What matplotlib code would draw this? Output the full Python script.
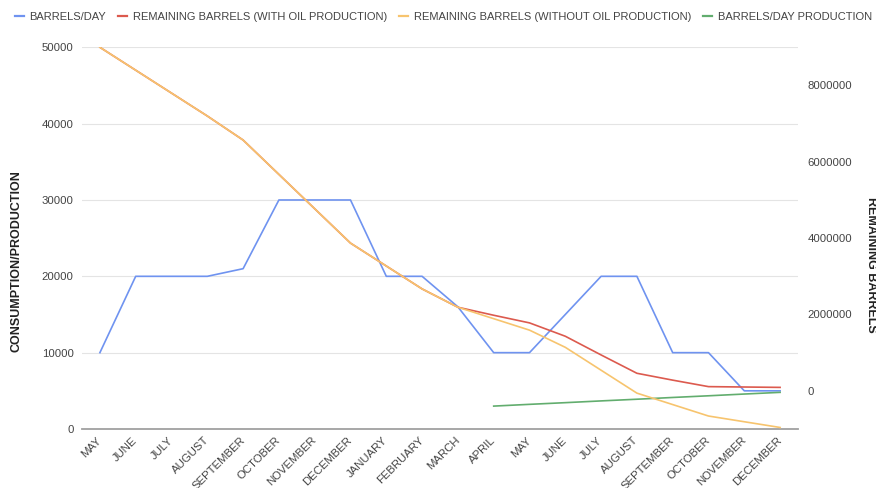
import matplotlib
matplotlib.use("Agg")
import matplotlib.pyplot as plt
import numpy as np
from matplotlib.ticker import FormatStrFormatter

plt.rcParams['font.family'] = ['Liberation Sans', 'DejaVu Sans']

months = ['MAY', 'JUNE', 'JULY', 'AUGUST', 'SEPTEMBER', 'OCTOBER', 'NOVEMBER',
          'DECEMBER', 'JANUARY', 'FEBRUARY', 'MARCH', 'APRIL', 'MAY', 'JUNE',
          'JULY', 'AUGUST', 'SEPTEMBER', 'OCTOBER', 'NOVEMBER', 'DECEMBER']

# consumption per day (left axis)
barrels_day = [10000, 20000, 20000, 20000, 21000, 30000, 30000, 30000, 20000, 20000,
               16000, 10000, 10000, 15000, 20000, 20000, 10000, 10000, 5000, 5000]

# stock left (right axis)
remaining_with = [9000000, 8400000, 7800000, 7200000, 6570000, 5670000, 4770000,
                  3870000, 3270000, 2670000, 2190000, 1980000, 1780000, 1430000,
                  940000, 460000, 280000, 110000, 100000, 90000]
remaining_without = [9000000, 8400000, 7800000, 7200000, 6570000, 5670000, 4770000,
                     3870000, 3270000, 2670000, 2190000, 1890000, 1590000, 1140000,
                     540000, -60000, -360000, -660000, -810000, -960000]

# own production starts in april of the second year
production = [np.nan] * 11 + [3000, 3230, 3450, 3680, 3900, 4130, 4350, 4580, 4800]

c_blue = '#6f93f0'
c_red = '#dc5a4e'
c_yellow = '#f7c46e'
c_green = '#62ad6e'
txt = '#444444'

fig = plt.figure(figsize=(8.76, 4.88), dpi=100)
ax = fig.add_axes([82/876, 1-429/488, (798-82)/876, (429-47.3)/488])
ax2 = ax.twinx()

x = np.arange(len(months))

l1, = ax.plot(x, barrels_day, color=c_blue, lw=1.2, label='BARRELS/DAY')
l4, = ax.plot(x, production, color=c_green, lw=1.2, label='BARRELS/DAY PRODUCTION')
l2, = ax2.plot(x, remaining_with, color=c_red, lw=1.2, label='REMAINING BARRELS (WITH OIL PRODUCTION)')
l3, = ax2.plot(x, remaining_without, color=c_yellow, lw=1.2, label='REMAINING BARRELS (WITHOUT OIL PRODUCTION)')

ax.set_xlim(-0.5, len(months) - 0.5)
ax.set_ylim(0, 50000)
ax.set_yticks(np.arange(0, 50001, 10000))
ax2.set_ylim(-1000000, 9000000)
ax2.set_yticks(np.arange(0, 8000001, 2000000))
ax2.yaxis.set_major_formatter(FormatStrFormatter('%d'))

ax.set_xticks(x)
ax.set_xticklabels(months)
for lbl in ax.get_xticklabels():
    lbl.set_rotation(45)
    lbl.set_ha('right')
    lbl.set_va('center')
    lbl.set_rotation_mode('anchor')

ax.grid(axis='y', color='#e4e4e4', linewidth=0.8)
ax.set_axisbelow(True)
ax.axhline(0, color='#a0a0a0', lw=1.3, clip_on=False, zorder=1)

for a in (ax, ax2):
    for s in a.spines.values():
        s.set_visible(False)
    a.tick_params(length=0, labelsize=8.2, labelcolor=txt)
ax.tick_params(axis='y', pad=6)
ax.tick_params(axis='x', pad=7)
ax2.tick_params(axis='y', pad=7)

fig.text(17/876, 1-261/488, 'CONSUMPTION/PRODUCTION', rotation=90, ha='center',
         va='center', fontsize=9, fontweight='bold', color='#222222')
fig.text(865/876, 1-265/488, 'REMAINING BARRELS', rotation=270, ha='left',
         va='center', fontsize=9, fontweight='bold', color='#222222')

leg = fig.legend(handles=[l1, l2, l3, l4], loc='upper left', bbox_to_anchor=(15/876, 1-12/488),
                 ncol=4, frameon=False, fontsize=8, handlelength=0.8, handletextpad=0.5,
                 columnspacing=1.1, borderaxespad=0, borderpad=0)
for t in leg.get_texts():
    t.set_color(txt)
for h in leg.legend_handles:
    h.set_linewidth(1.6)

plt.savefig('out.png', dpi=100)
